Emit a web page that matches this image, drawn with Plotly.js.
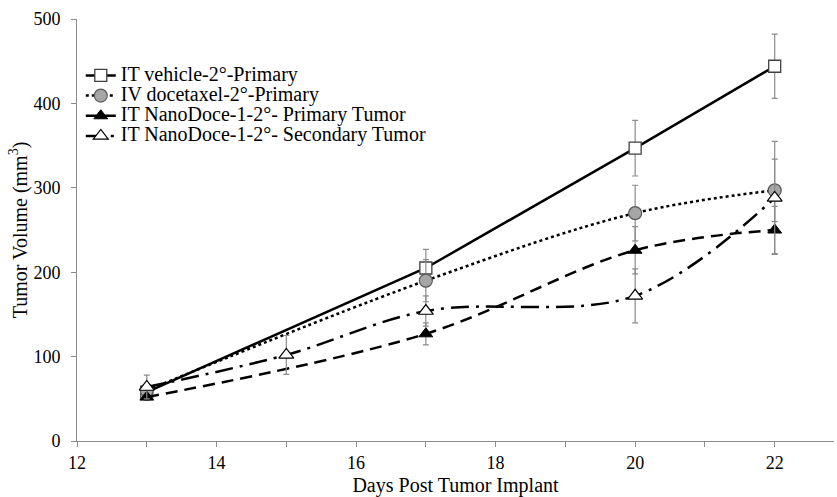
<!DOCTYPE html>
<html>
<head>
<meta charset="utf-8">
<script src="https://cdn.plot.ly/plotly-3.0.1.min.js"></script>
<style>html,body{margin:0;padding:0;background:#fff;}#chart{width:837px;height:497px;}</style>
</head>
<body>
<div id="chart"></div>
<script>
const seriesNames = ["IT vehicle-2°-Primary", "IV docetaxel-2°-Primary", "IT NanoDoce-1-2°- Primary Tumor", "IT NanoDoce-1-2°- Secondary Tumor"];
const daysMain = [13, 17, 20, 22];
const daysSecondary = [13, 15, 17, 20, 22];
const vehicleY = [58, 205, 347, 444];
const vehicleErr = [5, 22, 33, 38];
const docetaxelY = [60, 190, 270, 297];
const docetaxelErr = [5, 25, 33, 37];
const nanoPrimaryY = [52, 127, 226, 250];
const nanoPrimaryErr = [4, 13, 28, 28];
const nanoSecondaryY = [64, 102, 154, 172, 288];
const nanoSecondaryErr = [14, 23, 18, 32, 67];
const xTickVals = [12, 14, 16, 18, 20, 22];
const yTickVals = [0, 100, 200, 300, 400, 500];

const errStyle = (arr) => ({type: 'data', array: arr, visible: true, color: '#8c8c8c', thickness: 1.2, width: 3});
const legName = (s) => '<span style="font-size:20px">' + s + '</span>';

const traces = [
  {x: daysMain, y: vehicleY, name: legName(seriesNames[0]), mode: 'lines+markers', error_y: errStyle(vehicleErr),
   line: {color: '#000', width: 2.5, dash: 'solid'},
   marker: {symbol: 'square', size: 12, color: '#fff', line: {color: '#404040', width: 1.3}}},
  {x: daysMain, y: docetaxelY, name: legName(seriesNames[1]), mode: 'lines+markers', error_y: errStyle(docetaxelErr),
   line: {color: '#000', width: 2.5, dash: 'dot', shape: 'spline', smoothing: 1},
   marker: {symbol: 'circle', size: 13, color: '#a6a6a6', line: {color: '#595959', width: 1.2}}},
  {x: daysMain, y: nanoPrimaryY, name: legName(seriesNames[2]), mode: 'lines+markers', error_y: errStyle(nanoPrimaryErr),
   line: {color: '#000', width: 2.5, dash: '12px,7px', shape: 'spline', smoothing: 1},
   marker: {symbol: 'triangle-up', size: 12, color: '#000', line: {color: '#000', width: 1}}},
  {x: daysSecondary, y: nanoSecondaryY, name: legName(seriesNames[3]), mode: 'lines+markers', error_y: errStyle(nanoSecondaryErr),
   line: {color: '#000', width: 2.5, dash: '18px,7px,3px,7px', shape: 'spline', smoothing: 1},
   marker: {symbol: 'triangle-up', size: 13, color: '#fff', line: {color: '#000', width: 1.2}}}
];

const layout = {
  width: 837, height: 497,
  margin: {l: 77, r: 3, t: 19, b: 56},
  paper_bgcolor: '#fff', plot_bgcolor: '#fff',
  font: {family: 'Liberation Serif, Times New Roman, serif', size: 17, color: '#000'},
  showlegend: true,
  legend: {x: 0.005, y: 0.902, xanchor: 'left', yanchor: 'top', bgcolor: 'rgba(0,0,0,0)',
           font: {family: 'Liberation Serif, serif', size: 13.2, color: '#000'}, itemwidth: 30, tracegroupgap: 0},
  xaxis: {range: [12, 22.85], tickvals: xTickVals, ticks: 'outside', ticklen: 5, tickcolor: '#8c8c8c', tickwidth: 1,
          minor: {dtick: 1, tick0: 12, ticks: 'outside', ticklen: 5, tickcolor: '#8c8c8c', tickwidth: 1},
          showline: true, linecolor: '#8c8c8c', linewidth: 1, showgrid: false, zeroline: false,
          tickfont: {size: 18}, title: {text: 'Days Post Tumor Implant', font: {size: 20}, standoff: 7}},
  yaxis: {range: [0, 500], tickvals: yTickVals, ticks: 'outside', ticklen: 5, tickcolor: '#8c8c8c', tickwidth: 1,
          ticklabelstandoff: 7,
          showline: true, linecolor: '#8c8c8c', linewidth: 1, showgrid: false, zeroline: false,
          tickfont: {size: 18}, title: {text: 'Tumor Volume (mm<sup>3</sup>)', font: {size: 20}, standoff: 0}}
};

Plotly.newPlot('chart', traces, layout, {displayModeBar: false, staticPlot: true});
</script>
</body>
</html>
